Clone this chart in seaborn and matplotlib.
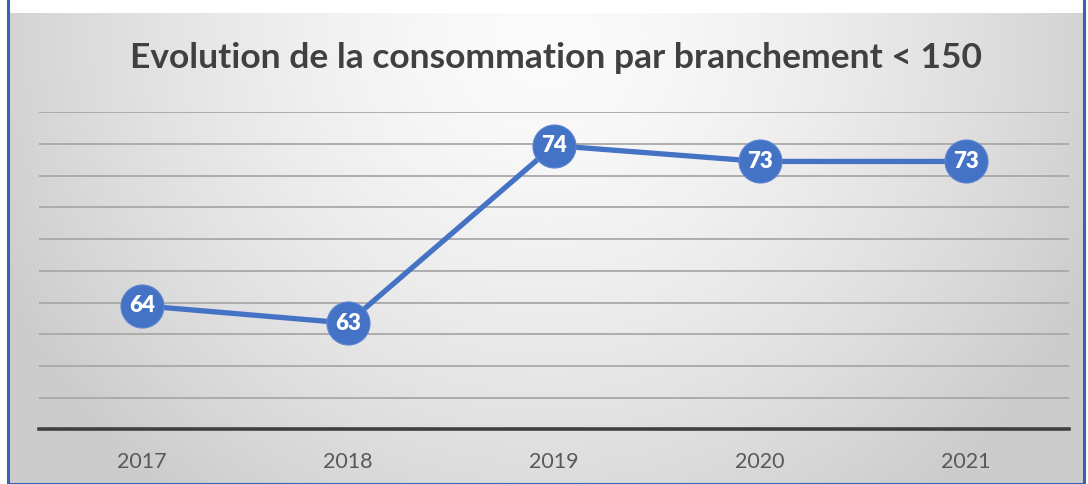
import numpy as np
import pandas as pd
import matplotlib
matplotlib.use("Agg")
import matplotlib.pyplot as plt
import seaborn as sns
from matplotlib.patches import Rectangle

# ---- data ----
years = ["2017", "2018", "2019", "2020", "2021"]
consommation = [63.8, 62.7, 73.9, 72.9, 72.9]
title = "Evolution de la consommation par branchement < 150"
y_min, y_max, y_step = 56, 76, 2

df = pd.DataFrame({"annee": years, "conso": consommation})

sns.set_theme(style="white")
plt.rcParams["font.family"] = ["Lato", "DejaVu Sans"]

W, H = 1088, 484
fig = plt.figure(figsize=(W / 100, H / 100), dpi=100)
fig.patch.set_facecolor("white")

# chart box with radial gradient background
bx0, by0, bx1 = 8, 13, 1084
bg = fig.add_axes([bx0 / W, 0, (bx1 - bx0) / W, (H - by0) / H])
bg.set_axis_off()
ny, nx = 300, 700
yy, xx = np.mgrid[0:ny, 0:nx]
u = (xx / (nx - 1) - 0.5) / 0.56
v = (yy / (ny - 1) - 0.05) / 1.25
r = np.clip(np.sqrt(u ** 2 + v ** 2), 0, 1)
c_in, c_out = 0.985, 0.80
img = c_in + (c_out - c_in) * r ** 1.5
bg.imshow(np.dstack([img, img, img]), aspect="auto", extent=[0, 1, 0, 1],
          origin="upper", interpolation="bilinear")
bg.set_xlim(0, 1)
bg.set_ylim(0, 1)
bg.add_patch(Rectangle((0, 0), 1, 1.2, transform=bg.transAxes, fill=False,
                       edgecolor="#3a62b0", linewidth=2.2, clip_on=False))

# plot area
px0, px1 = 38.7, 1069
py_top, py_bot = 112.3, 429.3
ax = fig.add_axes([px0 / W, (H - py_bot) / H, (px1 - px0) / W, (py_bot - py_top) / H])
ax.patch.set_alpha(0)

blue = "#4472C4"
sns.lineplot(data=df, x="annee", y="conso", ax=ax, color=blue, linewidth=3.8,
             marker="o", markersize=31, markeredgecolor="#5b85d0",
             markeredgewidth=0.8, zorder=5, sort=False)

for xi, yi in zip(df["annee"], df["conso"]):
    ax.text(xi, yi, f"{yi:.0f}", ha="center", va="center", color="white",
            fontsize=16, fontweight="heavy", zorder=6)

ax.set_xlim(-0.5, len(years) - 0.5)
ax.set_ylim(y_min, y_max)
ax.set_yticks(np.arange(y_min + y_step, y_max + 0.1, y_step))
ax.yaxis.grid(True, color="#a8a8a8", linewidth=1.3)
ax.set_axisbelow(True)
ax.tick_params(axis="y", left=False, labelleft=False)
ax.tick_params(axis="x", bottom=False, labelsize=15.5, labelcolor="#595959", pad=10)
for s in ["top", "right", "left"]:
    ax.spines[s].set_visible(False)
ax.spines["bottom"].set_color("#404040")
ax.spines["bottom"].set_linewidth(2.6)
ax.set_xlabel("")
ax.set_ylabel("")

fig.text(556 / W, 1 - 58 / H, title, ha="center", va="center",
         fontsize=25.5, fontweight="bold", color="#404040")

fig.savefig("out.png", dpi=100)
